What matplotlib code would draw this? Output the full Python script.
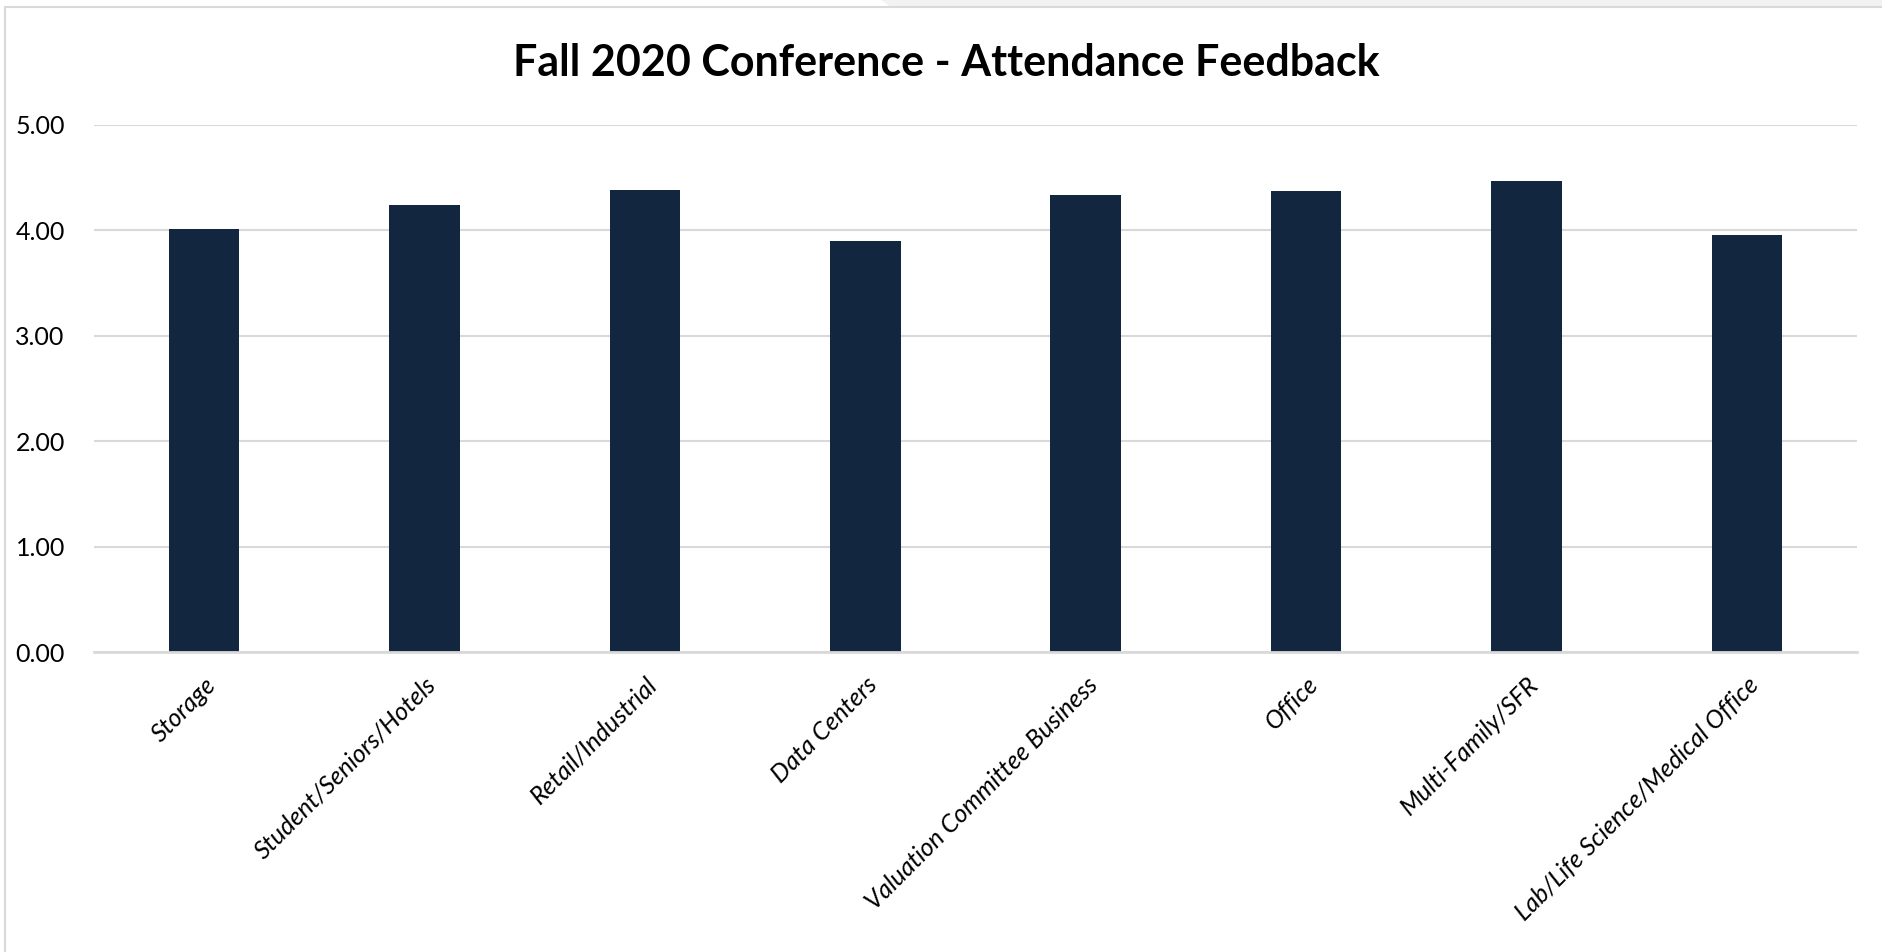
import matplotlib
matplotlib.use("Agg")
import matplotlib.pyplot as plt
from matplotlib.patches import Rectangle, Polygon

# values
categories = ["Storage", "Student/Seniors/Hotels", "Retail/Industrial", "Data Centers",
              "Valuation Committee Business", "Office", "Multi-Family/SFR",
              "Lab/Life Science/Medical Office"]
scores = [4.01, 4.24, 4.38, 3.90, 4.33, 4.37, 4.46, 3.95]
y_ticks = [0, 1, 2, 3, 4, 5]
y_tick_labels = ["0.00", "1.00", "2.00", "3.00", "4.00", "5.00"]

plt.rcParams['font.family'] = ['Lato', 'DejaVu Sans']

fig = plt.figure(figsize=(18.82, 9.52), dpi=100)

# sheet-like frame around the chart
fig.patches.append(Polygon([[0.468, 1.0], [1.0, 1.0], [1.0, 0.9927], [0.4735, 0.9927]],
                           closed=True, transform=fig.transFigure,
                           facecolor="#f2f2f2", edgecolor="none"))
fig.patches.append(Rectangle((0.0027, -0.01), 1.1, 1.0027, transform=fig.transFigure,
                             facecolor="none", edgecolor="#d9d9d9", linewidth=1.5))

ax = fig.add_axes([0.04995, 0.3151, 0.9368, 0.5541])

x = range(len(categories))
ax.bar(x, scores, width=0.32, color="#13263f", zorder=3)

ax.set_xlim(-0.5, len(categories) - 0.5)
ax.set_ylim(0, 5)
ax.set_yticks(y_ticks)
ax.set_yticklabels(y_tick_labels, fontsize=18)
ax.yaxis.grid(True, color="#d9d9d9", linewidth=1.5, zorder=0)

ax.set_xticks(list(x))
ax.set_xticklabels(categories, rotation=45, ha="right", va="top",
                   rotation_mode="anchor", fontsize=18, style="italic")

ax.tick_params(axis="both", length=0)
ax.tick_params(axis="y", pad=21)
ax.tick_params(axis="x", pad=15)

for side in ["top", "right", "left"]:
    ax.spines[side].set_visible(False)
ax.spines["bottom"].set_color("#d9d9d9")
ax.spines["bottom"].set_linewidth(2)
ax.spines["bottom"].set_zorder(4)

fig.text(0.5027, 0.934, "Fall 2020 Conference - Attendance Feedback",
         ha="center", va="center", fontsize=31, fontweight="bold")

fig.savefig("out.png", dpi=100)
